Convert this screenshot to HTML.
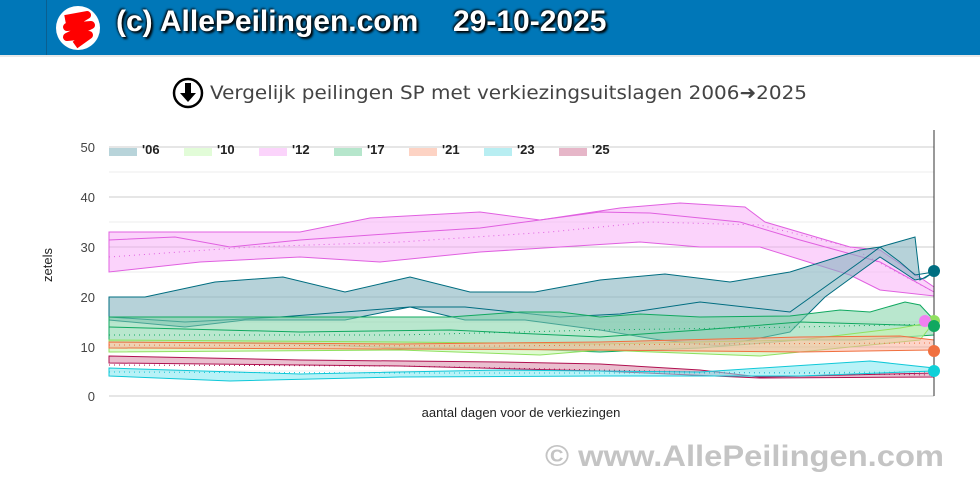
<!DOCTYPE html>
<html><head><meta charset="utf-8"><style>
body{margin:0;width:980px;height:477px;background:#fff;overflow:hidden;font-family:"Liberation Sans",sans-serif;position:relative}
.hdr{position:absolute;left:0;top:0;width:980px;height:55px;background:#0077b8;border-bottom:2px solid #e8e8e8}
.hdr span{position:absolute;top:5px;color:#fff;font-weight:bold;font-size:30px;text-shadow:2px 2px 2px #000,-1px -1px 2px #000}
</style></head><body>
<div class="hdr">
<div style="position:absolute;left:46px;top:0;width:1px;height:55px;background:#0a5f90"></div>
<svg style="position:absolute;left:55px;top:5px" width="46" height="46"><circle cx="23" cy="23" r="22" fill="#fff"/><path d="M10 14 L32 10 L12 22 L36 20 L12 32 L34 30 L20 40" stroke="#f00" stroke-width="8" fill="none" stroke-linejoin="round"/></svg>
<span style="left:116px">(c) AllePeilingen.com</span>
<span style="left:453px">29-10-2025</span>
</div>
<svg width="980" height="477" style="position:absolute;left:0;top:0">
<circle cx="188" cy="93" r="14" fill="#fff" stroke="#000" stroke-width="2.5"/>
<path d="M185 83 h6 v10 h5 l-8 9 l-8 -9 h5z" fill="#000"/>
<text x="210" y="99" font-size="19" fill="#444" font-family="DejaVu Sans,sans-serif" textLength="597" lengthAdjust="spacingAndGlyphs">Vergelijk peilingen SP met verkiezingsuitslagen 2006➜2025</text>
<g stroke="#ccc" stroke-width="1">
<line x1="109" x2="934" y1="147" y2="147"/><line x1="109" x2="934" y1="197" y2="197"/><line x1="109" x2="934" y1="247" y2="247"/><line x1="109" x2="934" y1="297" y2="297"/><line x1="109" x2="934" y1="347" y2="347"/><line x1="109" x2="934" y1="396" y2="396"/>
</g>
<g stroke="#eee"><line x1="109" x2="934" y1="222" y2="222"/><line x1="109" x2="934" y1="272" y2="272"/><line x1="109" x2="934" y1="322" y2="322"/><line x1="109" x2="934" y1="371" y2="371"/><line x1="109" x2="934" y1="172" y2="172"/></g>
<g font-size="13" fill="#444" text-anchor="end"><text x="95" y="152">50</text><text x="95" y="202">40</text><text x="95" y="252">30</text><text x="95" y="302">20</text><text x="95" y="352">10</text><text x="95" y="401">0</text></g>
<polygon fill="#f7a8f7" fill-opacity="0.5" stroke="#e060e0" stroke-width="1" points="109,232 300,232 370,218 480,212 540,220 620,208 680,203 745,207 765,222 850,247 880,250 934,287 934,296 880,290 850,275 760,247 700,247 640,242 560,247 480,252 380,262 300,257 200,262 109,272"/>
<polyline fill="none" stroke="#e060e0" points="109,240 175,237 230,247 300,240 400,233 480,228 600,212 650,213 740,222 800,240 880,262 934,292"/>
<polyline fill="none" stroke="#e060e0" stroke-dasharray="1,4" points="109,257 250,247 400,242 550,232 650,222 760,225 850,247 934,292"/>
<polygon fill="#86b4bf" fill-opacity="0.6" stroke="#006d80" stroke-width="1" points="109,297 145,297 215,282 283,277 345,292 410,277 470,292 535,292 600,280 665,274 730,282 790,272 860,250 880,247 915,237 920,280 934,272 925,278 915,280 900,270 880,257 862,270 825,297 790,332 720,346 660,340 600,330 525,320 465,320 410,307 345,320 245,320 185,327 109,320"/>
<polyline fill="none" stroke="#006d80" points="109,317 185,322 280,317 410,307 465,307 560,317 620,314 700,302 790,312 860,262 880,247 900,262 915,275 934,272"/>
<polygon fill="#7fd3a6" fill-opacity="0.55" stroke="#10a860" stroke-width="1" points="109,317 450,317 520,312 560,312 600,317 640,314 700,317 790,316 840,310 870,312 905,302 920,305 934,320 934,335 860,340 800,340 700,348 600,352 500,348 400,348 300,344 109,342"/>
<polyline fill="none" stroke="#10a860" points="109,327 300,332 450,330 600,337 700,330 800,322 934,326"/>
<polyline fill="none" stroke="#10a860" stroke-dasharray="1,4" points="109,335 400,335 600,330 800,327 934,324"/>
<polygon fill="#c8f7b0" fill-opacity="0.6" stroke="#90e060" stroke-width="1" points="109,340 400,342 600,344 800,340 900,328 934,322 920,340 800,352 760,356 600,350 540,355 400,350 109,352"/>
<polygon fill="#fbb09a" fill-opacity="0.55" stroke="#f07040" stroke-width="1" points="109,342 400,344 600,342 800,337 900,336 934,340 934,350 800,352 600,350 400,349 109,348"/>
<polyline fill="none" stroke="#f07040" stroke-dasharray="1,4" points="109,345 500,346 700,344 934,343"/>
<polygon fill="#d88aa8" fill-opacity="0.55" stroke="#b01050" stroke-width="1" points="109,356 300,360 500,362 600,364 700,370 760,377 934,373 934,377 760,378 600,371 400,366 109,363"/>
<polyline fill="none" stroke="#b01050" stroke-dasharray="1,4" points="109,365 400,366 700,372 934,375"/>
<polygon fill="#7de8f0" fill-opacity="0.55" stroke="#10c8d8" stroke-width="1" points="109,368 300,374 500,370 700,372 870,361 934,368 934,371 800,376 600,376 400,377 230,381 109,376"/>
<polyline fill="none" stroke="#10c8d8" stroke-dasharray="1,4" points="109,372 400,373 700,373 934,372"/>
<line x1="934" y1="130" x2="934" y2="396" stroke="#333" stroke-width="1"/>
<circle cx="934" cy="271" r="6" fill="#006d80"/>
<circle cx="934" cy="321" r="6" fill="#90e060"/>
<circle cx="925" cy="321" r="6" fill="#f080f0"/>
<circle cx="934" cy="326" r="6" fill="#10a860"/>
<circle cx="934" cy="351" r="6" fill="#f07040"/>
<circle cx="934" cy="371" r="6" fill="#10d0d8"/>
<g font-size="13" font-weight="bold" fill="#222">
<rect x="109" y="148" width="28" height="8" fill="#b8d4da"/><text x="142" y="154">'06</text>
<rect x="184" y="148" width="28" height="8" fill="#e2fcd8"/><text x="217" y="154">'10</text>
<rect x="259" y="148" width="28" height="8" fill="#fbd4fb"/><text x="292" y="154">'12</text>
<rect x="334" y="148" width="28" height="8" fill="#b6e6cc"/><text x="367" y="154">'17</text>
<rect x="409" y="148" width="28" height="8" fill="#fdd3c4"/><text x="442" y="154">'21</text>
<rect x="484" y="148" width="28" height="8" fill="#b8eef2"/><text x="517" y="154">'23</text>
<rect x="559" y="148" width="28" height="8" fill="#e6b6c8"/><text x="592" y="154">'25</text>
</g>
<text x="521" y="417" font-size="13" fill="#222" text-anchor="middle">aantal dagen voor de verkiezingen</text>
<text transform="translate(52,265) rotate(-90)" font-size="13" fill="#222" text-anchor="middle">zetels</text>
<text x="545" y="466" font-size="30" font-weight="bold" fill="#c4c4c4" textLength="399" lengthAdjust="spacingAndGlyphs">© www.AllePeilingen.com</text>
</svg>
</body></html>
